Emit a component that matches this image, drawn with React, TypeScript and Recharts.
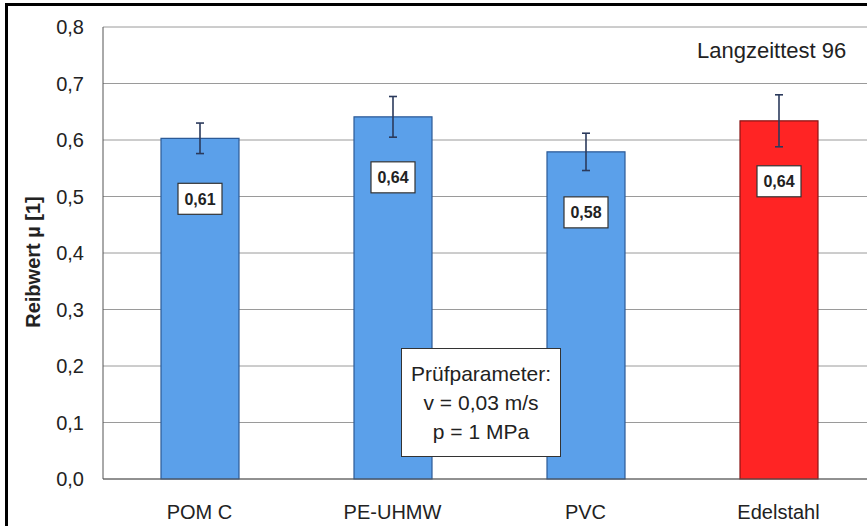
import React from "react";
import {
  BarChart,
  Bar,
  XAxis,
  YAxis,
  CartesianGrid,
  ErrorBar,
  Cell,
  LabelList,
} from "recharts";

// =====================================
// DATA
// =====================================

const categories = ["POM C", "PE-UHMW", "PVC", "Edelstahl"];

const frictionValues = [0.603, 0.641, 0.579, 0.634];

const errorValues = [0.027, 0.036, 0.033, 0.046];

const valueLabels = ["0,61", "0,64", "0,58", "0,64"];

const barColors = ["#5ba0ea", "#5ba0ea", "#5ba0ea", "#ff2424"];

const yTicks = [0, 0.1, 0.2, 0.3, 0.4, 0.5, 0.6, 0.7, 0.8];

const data = categories.map((name, i) => ({
  name,
  value: frictionValues[i],
  err: errorValues[i],
  label: valueLabels[i],
}));

const FONT = "'Liberation Sans', Arial, sans-serif";

// white box with the rounded value, sitting inside the bar
const ValueBox = (props: any) => {
  const { x, y, width, value } = props;
  const cx = x + width / 2;
  const top = y + 45;
  return (
    <g>
      <rect
        x={cx - 22}
        y={top}
        width={44}
        height={31}
        fill="#ffffff"
        stroke="#333333"
        strokeWidth={1.2}
      />
      <text
        x={cx}
        y={top + 21.5}
        textAnchor="middle"
        fontFamily={FONT}
        fontSize={16}
        fontWeight="bold"
        fill="#222222"
      >
        {value}
      </text>
    </g>
  );
};

const AxisTitle = (props: any) => {
  const vb = props.viewBox || { x: 0, y: 0, width: 0, height: 0 };
  const cx = vb.x + 33;
  const cy = vb.y + vb.height / 2 + 9;
  return (
    <text
      x={cx}
      y={cy}
      transform={`rotate(-90, ${cx}, ${cy})`}
      textAnchor="middle"
      dominantBaseline="central"
      fontFamily={FONT}
      fontSize={20}
      fontWeight="bold"
      fill="#222222"
    >
      Reibwert µ [1]
    </text>
  );
};

export default function App() {
  return (
    <div
      style={{
        position: "absolute",
        left: 0,
        top: 0,
        width: 867,
        height: 526,
        overflow: "hidden",
        background: "#ffffff",
        fontFamily: FONT,
      }}
    >
      <BarChart
        width={878}
        height={526}
        data={data}
        margin={{ top: 27, right: 3, bottom: 7, left: 0 }}
      >
        <CartesianGrid vertical={false} stroke="#9a9a9a" />

        <XAxis
          dataKey="name"
          tickLine={false}
          tickSize={0}
          tickMargin={26}
          height={40}
          axisLine={{ stroke: "#555555" }}
          tick={{ fontFamily: FONT, fontSize: 20, fill: "#222222" }}
        />

        <YAxis
          width={103}
          domain={[0, 0.8]}
          ticks={yTicks}
          tickLine={false}
          tickSize={0}
          tickMargin={19}
          axisLine={{ stroke: "#555555" }}
          tickFormatter={(v: number) => v.toFixed(1).replace(".", ",")}
          tick={{ fontFamily: FONT, fontSize: 20, fill: "#222222" }}
          label={<AxisTitle />}
        />

        <Bar dataKey="value" barSize={78} isAnimationActive={false}>
          {data.map((d, i) => (
            <Cell
              key={d.name}
              fill={barColors[i]}
              stroke={i === 3 ? "#8a1414" : "#2c5a96"}
              strokeWidth={1.2}
            />
          ))}
          <ErrorBar
            dataKey="err"
            direction="y"
            width={4}
            stroke="#2b3a5c"
            strokeWidth={1.6}
          />
          <LabelList dataKey="label" content={<ValueBox />} />
        </Bar>
      </BarChart>

      {/* frame of the original figure */}
      <div
        style={{
          position: "absolute",
          left: 5,
          top: 3,
          width: 880,
          height: 540,
          borderLeft: "3px solid #000",
          borderTop: "3px solid #000",
          pointerEvents: "none",
        }}
      />

      <div
        style={{
          position: "absolute",
          left: 697,
          top: 40,
          fontSize: 22,
          lineHeight: "22px",
          color: "#222222",
          whiteSpace: "nowrap",
        }}
      >
        Langzeittest 96
      </div>

      <div
        style={{
          position: "absolute",
          left: 401,
          top: 348,
          width: 160,
          height: 109,
          background: "#ffffff",
          border: "1.5px solid #333333",
          color: "#222222",
          fontSize: 21,
          lineHeight: "29px",
          textAlign: "center",
          paddingTop: 10,
          boxSizing: "border-box",
        }}
      >
        Prüfparameter:
        <br />
        v = 0,03 m/s
        <br />
        p = 1 MPa
      </div>
    </div>
  );
}
